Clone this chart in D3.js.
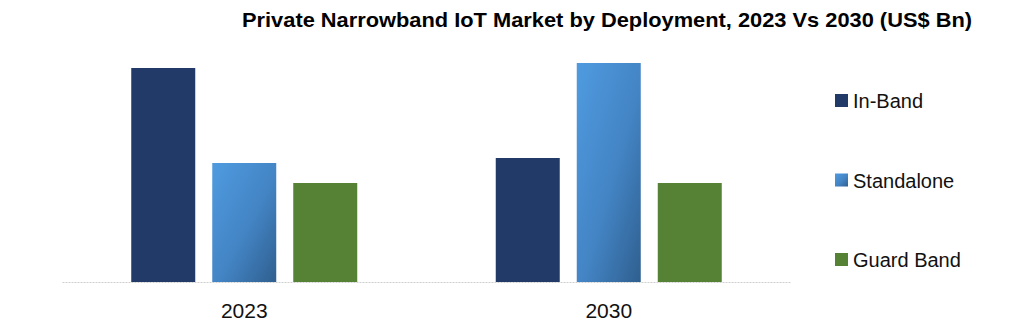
<!DOCTYPE html>
<html>
<head>
<meta charset="utf-8">
<script src="https://cdn.jsdelivr.net/npm/d3@7"></script>
<style>
  html, body { margin: 0; padding: 0; background: #fff; }
  svg { display: block; }
</style>
</head>
<body>
<svg id="chart" width="1024" height="329"></svg>
<script>
const title = "Private Narrowband IoT Market by Deployment, 2023 Vs 2030 (US$ Bn)";
const years = ["2023", "2030"];
const series = ["In-Band", "Standalone", "Guard Band"];
const inBand = [21.4, 12.4];
const standalone = [11.9, 21.9];
const guardBand = [9.9, 9.9];

const valuesBySeries = { "In-Band": inBand, "Standalone": standalone, "Guard Band": guardBand };
const data = years.map((y, i) => ({ year: y, values: series.map(s => ({ key: s, value: valuesBySeries[s][i] })) }));

const svg = d3.select("#chart");
const defs = svg.append("defs");
const grad = defs.append("linearGradient").attr("id", "gStand")
  .attr("x1", "0").attr("y1", "0").attr("x2", "1").attr("y2", "1");
grad.append("stop").attr("offset", "0%").attr("stop-color", "#4f9be0");
grad.append("stop").attr("offset", "55%").attr("stop-color", "#4384c4");
grad.append("stop").attr("offset", "100%").attr("stop-color", "#2f5f8f");

const color = d3.scaleOrdinal().domain(series).range(["#213a67", "url(#gStand)", "#558235"]);

const x0 = d3.scaleBand().domain(years).range([62, 791]).padding(0);
const x1 = d3.scaleBand().domain(series).range([0, x0.bandwidth()]).paddingInner(0.21).paddingOuter(0.855);
const y = d3.scaleLinear().domain([0, 22]).range([282, 62]);

// title
svg.append("text")
  .attr("x", 242).attr("y", 27)
  .attr("textLength", 730).attr("lengthAdjust", "spacingAndGlyphs")
  .style("font-family", "'Liberation Sans Narrow', 'Liberation Sans', Arial, sans-serif")
  .style("font-weight", "bold").style("font-size", "21px").attr("fill", "#000")
  .text(title);

// bars
const groups = svg.append("g").selectAll("g").data(data).join("g")
  .attr("transform", d => `translate(${x0(d.year)},0)`);
groups.selectAll("rect").data(d => d.values).join("rect")
  .attr("x", d => x1(d.key))
  .attr("width", x1.bandwidth())
  .attr("y", d => y(d.value))
  .attr("height", d => y(0) - y(d.value))
  .attr("fill", d => color(d.key));

// x axis
const xAxis = svg.append("g").attr("transform", `translate(0,${y(0)})`)
  .call(d3.axisBottom(x0).tickSize(0).tickPadding(21));
xAxis.select(".domain").attr("stroke", "#cfcfcf").attr("stroke-width", 1).attr("stroke-dasharray", "2,1");
xAxis.selectAll("text")
  .style("font-family", "'Liberation Sans', Arial, sans-serif")
  .style("font-size", "21px").attr("fill", "#111");

// legend
const legend = svg.append("g").selectAll("g").data(series).join("g")
  .attr("transform", (d, i) => `translate(835,${94 + i * 79.5})`);
legend.append("rect").attr("width", 13).attr("height", 13).attr("fill", d => color(d));
legend.append("text").attr("x", 18).attr("y", 14)
  .style("font-family", "'Liberation Sans', Arial, sans-serif")
  .style("font-size", "20px").attr("fill", "#111")
  .text(d => d);
</script>
</body>
</html>
